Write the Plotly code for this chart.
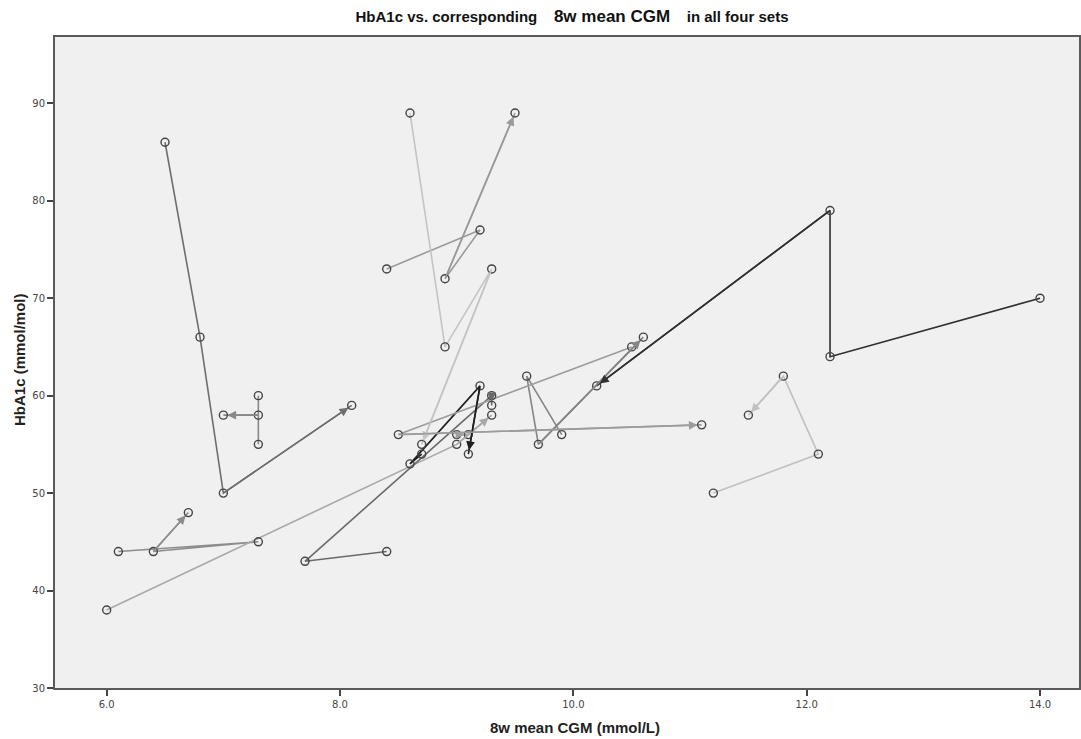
import plotly.graph_objects as go

# Each subject: list of (CGM, HbA1c) across sets, with line colour
p1_x = [6.5, 6.8, 7.0, 8.1];   p1_y = [86, 66, 50, 59]
p2_x = [7.3, 7.3, 7.3, 7.0];   p2_y = [60, 55, 58, 58]
p3_x = [6.1, 7.3, 6.4, 6.7];   p3_y = [44, 45, 44, 48]
p4_x = [6.0, 9.0, 9.3];        p4_y = [38, 55, 58]
p5_x = [8.4, 7.7, 9.3, 9.3];   p5_y = [44, 43, 60, 59]
p6_x = [8.4, 9.2, 8.9, 9.5];   p6_y = [73, 77, 72, 89]
p7_x = [8.6, 8.9, 9.3, 8.7];   p7_y = [89, 65, 73, 55]
p8_x = [8.7, 8.6, 9.2, 9.1];   p8_y = [54, 53, 61, 54]
p9_x = [9.9, 9.6, 9.7, 10.6];  p9_y = [56, 62, 55, 66]
p10_x = [14.0, 12.2, 12.2, 10.2]; p10_y = [70, 64, 79, 61]
p11_x = [11.2, 12.1, 11.8, 11.5]; p11_y = [50, 54, 62, 58]
p12_x = [10.5, 8.5, 11.1];     p12_y = [65, 56, 57]
p13_x = [9.0, 9.1];            p13_y = [56, 56]

paths = [
    (p1_x, p1_y, "#6e6e6e"),
    (p2_x, p2_y, "#888888"),
    (p3_x, p3_y, "#8c8c8c"),
    (p4_x, p4_y, "#a8a8a8"),
    (p5_x, p5_y, "#6a6a6a"),
    (p6_x, p6_y, "#9a9a9a"),
    (p7_x, p7_y, "#c4c4c4"),
    (p8_x, p8_y, "#1e1e1e"),
    (p9_x, p9_y, "#858585"),
    (p10_x, p10_y, "#303030"),
    (p11_x, p11_y, "#c0c0c0"),
    (p12_x, p12_y, "#9c9c9c"),
    (p13_x, p13_y, "#a0a0a0"),
]

x_ticks = [6.0, 8.0, 10.0, 12.0, 14.0]
x_tick_text = ["6.0", "8.0", "10.0", "12.0", "14.0"]
y_ticks = [30, 40, 50, 60, 70, 80, 90]

fig = go.Figure()
annotations = []
for xs, ys, col in paths:
    fig.add_trace(go.Scatter(
        x=xs, y=ys, mode="lines",
        line=dict(color=col, width=1.6),
        hoverinfo="skip", showlegend=False))
    if len(xs) > 1:
        annotations.append(dict(
            x=xs[-1], y=ys[-1], ax=xs[-2], ay=ys[-2],
            xref="x", yref="y", axref="x", ayref="y",
            showarrow=True, arrowhead=2, arrowsize=1.1, arrowwidth=1.6,
            arrowcolor=col, standoff=4, text=""))

all_x = [v for xs, ys, c in paths for v in xs]
all_y = [v for xs, ys, c in paths for v in ys]
fig.add_trace(go.Scatter(
    x=all_x, y=all_y, mode="markers",
    marker=dict(symbol="circle-open", size=8, color="#444444",
                line=dict(width=1.4, color="#444444")),
    hoverinfo="skip", showlegend=False))

# axis titles placed as annotations for exact positioning
annotations.append(dict(
    text="<b>8w mean CGM (mmol/L)</b>", x=(575 - 55) / 1024, y=-(727 - 688) / 651,
    xref="paper", yref="paper", xanchor="center", yanchor="middle",
    showarrow=False, font=dict(size=15, color="#222")))
annotations.append(dict(
    text="<b>HbA1c (mmol/mol)</b>", x=-(55 - 19) / 1024, y=(688 - 360) / 651,
    xref="paper", yref="paper", xanchor="center", yanchor="middle",
    textangle=-90, showarrow=False, font=dict(size=15, color="#222")))

fig.update_layout(
    width=1081, height=739,
    margin=dict(l=55, r=2, t=37, b=51, autoexpand=False),
    paper_bgcolor="white",
    plot_bgcolor="#f0f0f0",
    font=dict(family="Liberation Sans Narrow, Liberation Sans, sans-serif", color="#222"),
    title=dict(
        text="<b>HbA1c vs. corresponding</b>&nbsp;&nbsp;&nbsp;&nbsp;<b><span style='font-size:17px'>8w mean CGM</span></b>&nbsp;&nbsp;&nbsp;&nbsp;<b>in all four sets</b>",
        x=(572 - 55) / 1024, xref="paper", xanchor="center",
        y=1 - 17 / 739, yanchor="middle", yref="container",
        font=dict(size=15, color="#111")),
    annotations=annotations,
)
fig.update_xaxes(
    range=[5.557, 14.334], tickvals=x_ticks, ticktext=x_tick_text,
    showgrid=False, zeroline=False, automargin=False,
    showline=True, linecolor="#5a5a5a", linewidth=2, mirror=True,
    ticks="outside", ticklen=6, tickwidth=2, tickcolor="#444",
    tickfont=dict(size=10, color="#444", family="DejaVu Sans"))
fig.update_yaxes(
    range=[30, 96.8], tickvals=y_ticks,
    showgrid=False, zeroline=False, automargin=False,
    showline=True, linecolor="#5a5a5a", linewidth=2, mirror=True,
    ticks="outside", ticklen=6, tickwidth=2, tickcolor="#444",
    tickfont=dict(size=10, color="#444", family="DejaVu Sans"))

fig.write_html("out.html", config={"displayModeBar": False},
               post_script="document.body.style.margin='0px';")
